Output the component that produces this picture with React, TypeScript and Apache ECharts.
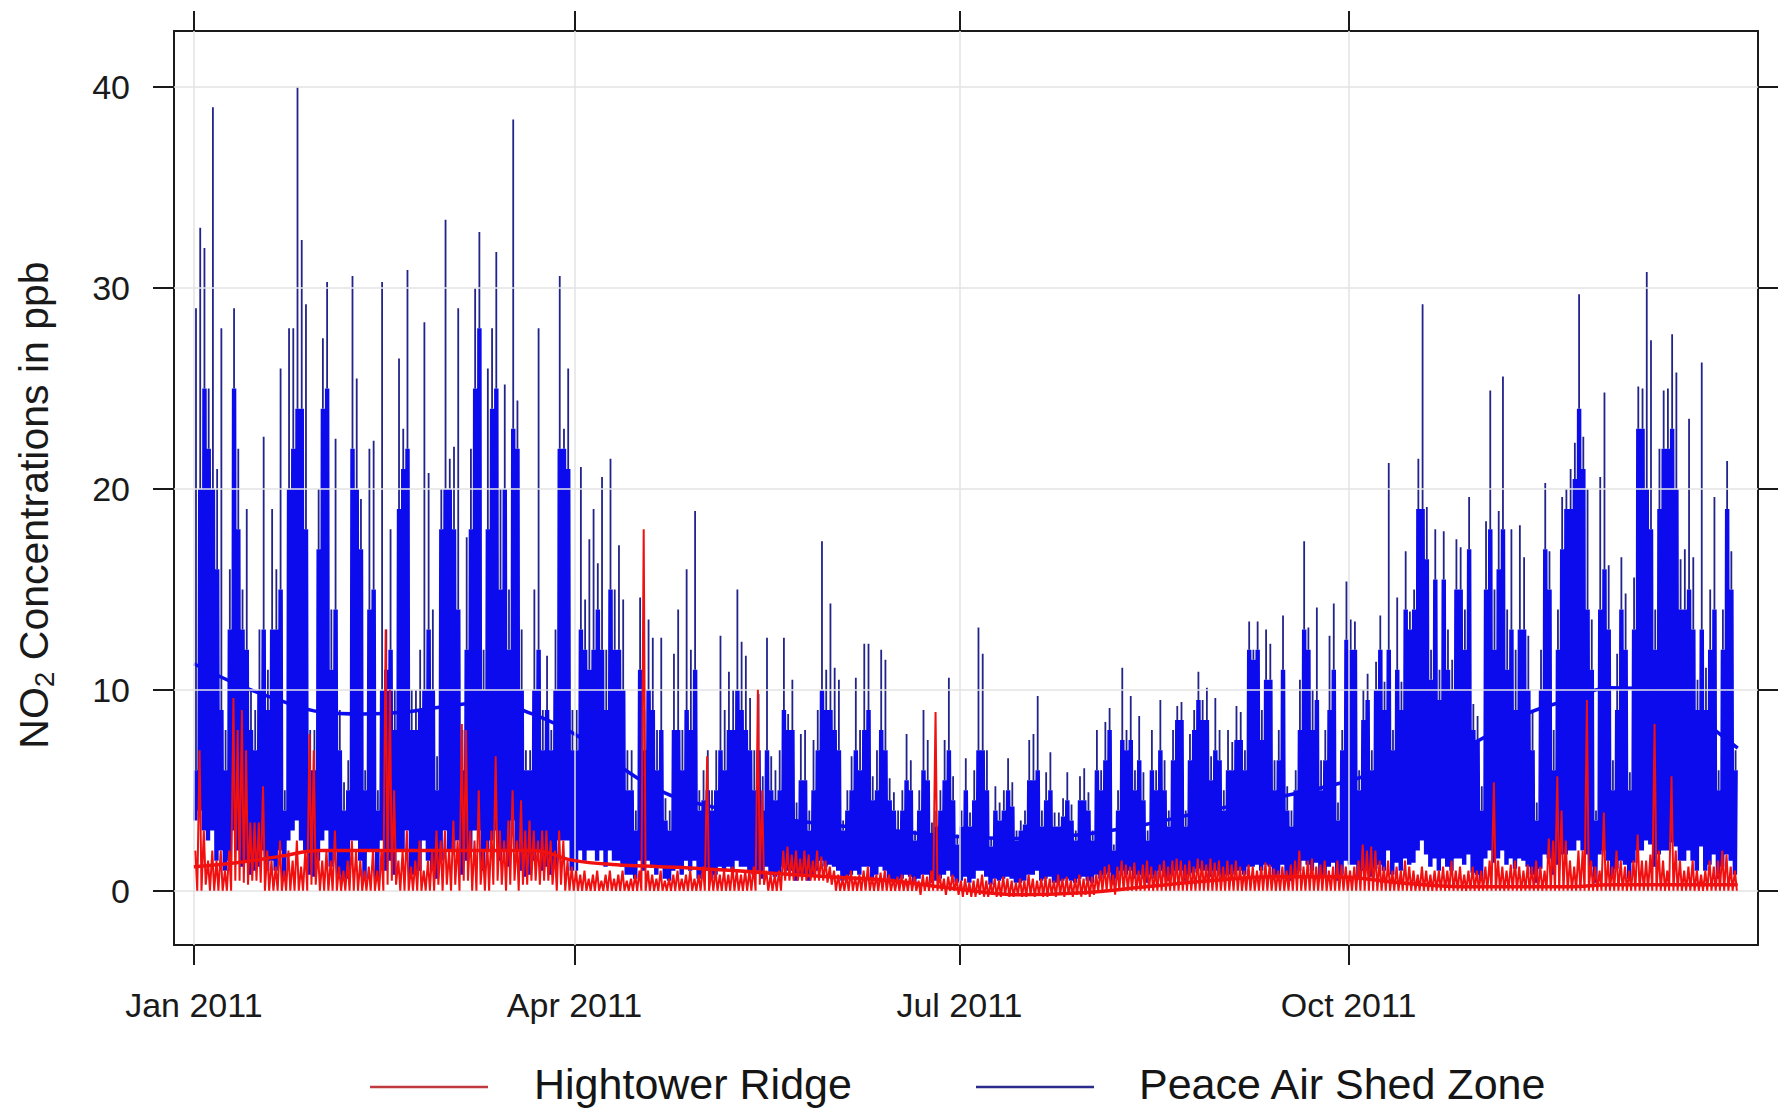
import React, { useEffect, useRef } from "react";
import * as echarts from "echarts";

// x axis: day of year 2011 (0 = 1 Jan)
const TICK_DAYS = [0, 90, 181, 273];
const TICK_LABELS = ["Jan 2011", "Apr 2011", "Jul 2011", "Oct 2011"];
const Y_TICKS = [0, 10, 20, 30, 40];

// Peace Air Shed Zone: daily peak, typical daily high (top of the solid band) and daily low (ppb)
const BLUE_PEAK = [
  29, 33, 32, 25, 39, 21, 28, 8, 16, 29, 22, 15, 19, 10, 9, 13, 22.6, 11, 19, 16, 26, 5, 28, 28, 40, 32.4, 29.2, 8, 8, 20, 27.5,
  30.3, 14, 22.5, 9, 5.4, 6.5, 30.6, 25.5, 19.5, 6, 22, 22.4, 5, 30.3, 13, 18, 10, 26.5, 23, 30.9, 10, 10, 12, 28.3, 20.8, 14, 6.7, 20,
  33.4, 21.5, 22.1, 29, 8, 17.6, 22, 30, 32.8, 12, 26, 28, 31.8, 20, 25.2, 15, 38.4, 24.4, 13, 7, 7, 15, 28, 9, 11.7, 8, 13, 30.6, 23, 26, 9,
  9, 21.1, 14.5, 17.5, 19, 16.3, 20.6, 12, 21.5, 15, 17.2, 14.5, 7, 7, 4, 14.6, 9, 13.5, 12.6, 8, 12.6, 4.6, 4, 11.8, 14, 8, 16, 12, 18.9, 5,
  6, 7, 5, 7, 12.7, 9, 10.9, 10, 15, 12.4, 11.7, 9.6, 7, 9.8, 5.7, 12.6, 6.7, 6, 7, 12.6, 8.8, 10.5, 4.4, 7.8, 8, 4, 7.5, 9, 17.4, 11, 14.3,
  11.1, 10.5, 3.5, 5, 6.7, 10.6, 8, 12.3, 12.3, 5.7, 7, 12, 11.5, 5.6, 4.9, 4, 5, 7.8, 6.5, 3, 5, 9, 7.5, 3.4, 4, 5, 7.5, 10.6, 5.7, 2.8,
  4, 6.6, 3.9, 6, 13.1, 11.8, 7, 2.6, 5.2, 4.4, 5, 6.6, 5.4, 3, 3.5, 4, 7.5, 7.8, 9.7, 4, 5.9, 6.9, 3.9, 3.9, 4.6, 5.9, 4.3, 3, 5.7, 6.1, 4.9,
  3, 8, 6, 8.4, 9.1, 2.3, 5, 11.1, 8, 9.7, 6, 8.7, 5.9, 3, 8, 6, 9.5, 6.5, 4, 8, 9.2, 9.4, 4, 7.8, 9, 10.9, 9.5, 10.1, 6.7, 9.6, 8,
  5, 8, 7.4, 9.2, 8.9, 7, 13.4, 12, 13.4, 9, 13, 12.3, 6.5, 8, 13.7, 5.2, 4, 6, 10.5, 17.4, 13.1, 10, 14.1, 6.5, 8, 12.7, 14.3, 4.4, 8, 15.4,
  13.5, 13.4, 6, 10, 10.8, 7, 11.4, 13.7, 10.4, 21.3, 8, 14.6, 10.4, 16.9, 13.9, 15, 21.5, 29.2, 19.1, 12, 18, 11, 17.9, 13, 11.5, 17.5, 17.1, 14, 19.6, 9.3, 8.7,
  5.2, 18.4, 24.9, 15, 18.9, 25.6, 14, 18, 12, 18.2, 16.6, 12.7, 9, 4.4, 12, 20.3, 16.9, 8, 14, 19.6, 20, 21, 22.3, 29.7, 22.6, 20, 13.5, 4, 20.6, 24.8,
  16.2, 6.5, 11.8, 16.6, 14.8, 5.9, 15.6, 25.1, 25, 30.8, 27.4, 14, 22, 24.9, 25, 27.7, 25.8, 16.5, 17, 23.5, 16.6, 10.5, 26.3, 11.1, 15, 19.6, 6, 14, 21.4, 16.9, 7,
];
const BLUE_MID = [
  6, 20, 25, 22, 20, 16, 9, 6, 13, 25, 18, 13, 12, 8, 7, 10, 13, 9, 13, 13, 15, 4, 20, 22, 24, 24, 18, 6, 6, 17, 24,
  25, 11, 14, 7, 4, 5, 22, 20, 17, 5, 14, 15, 4, 10, 11, 12, 8, 19, 21, 22, 8, 8, 9, 10, 13, 10, 5, 18,
  20, 20, 18, 14, 6, 12, 18, 25, 28, 10, 18, 24, 25, 15, 20, 12, 23, 22, 10, 6, 6, 10, 12, 7, 9, 7, 10, 22, 22, 21, 7,
  7, 13, 12, 11, 12, 14, 12, 9, 15, 12, 12, 10, 5, 5, 3, 11, 7, 10, 9, 6, 8, 3.5, 3, 8, 8, 6, 9, 8, 11, 4,
  4.5, 5, 4, 5, 7, 6, 8, 8, 10, 9, 8, 7, 5, 7, 4, 7, 5, 4.5, 5, 9, 8, 8, 3.5, 5.5, 5.5, 3, 5, 7, 10, 9, 9,
  8, 7, 3, 4, 5, 7, 6, 8, 9, 4.5, 5, 8, 7, 4.5, 4, 3, 4, 5.5, 5, 2.5, 4, 6, 5.5, 2.8, 3.2, 4, 5.5, 7, 4.5, 2.3,
  3.2, 5, 3.2, 4.5, 7, 7, 5, 2.2, 4, 3.5, 4, 5, 4.2, 2.5, 3, 3.3, 5.5, 5.5, 6, 3.2, 4.5, 5, 3.2, 3.2, 3.7, 4.5, 3.5, 2.5, 4.5, 4.5, 4,
  2.5, 6, 5, 6.5, 8, 2, 4, 7.5, 7, 7.5, 5, 6.5, 4.5, 2.5, 6, 5, 7, 5, 3.2, 6.5, 8.5, 8.5, 3.2, 6.5, 8, 9.5, 8.5, 8.5, 5.5, 7, 6.5,
  4, 6, 6, 7.5, 7.5, 6, 12, 11.5, 12, 7.5, 10.5, 10.5, 5, 6.5, 11, 4, 3.2, 5, 8, 13, 12, 8, 9.5, 5, 6.5, 9, 11, 3.5, 7, 12.5,
  12, 12, 5, 8.5, 9.5, 6, 10, 12, 9, 12, 7, 11, 9, 14, 13, 14, 19, 19, 16.5, 10.5, 15.5, 9.5, 15.5, 11, 10, 15, 15, 12, 17, 8, 7.5,
  4, 15, 18, 12, 16, 18, 11, 13, 9, 13, 13, 10, 7, 3.5, 10, 17, 15, 6, 12, 17, 19, 19, 20.5, 24, 21, 14, 11, 3.5, 14, 16,
  13, 5, 9, 14, 12, 5, 13, 23, 23, 20, 18, 12, 19, 22, 22, 23, 20, 14, 14, 15, 13, 9, 13, 9, 12, 14, 5, 12, 19, 15, 6,
];
const BLUE_LOW = [
  3.5, 4, 3, 2.5, 3, 1.5, 2, 1, 1.5, 3, 2, 1.2, 1.5, 0.8, 1, 1.2, 2, 1, 1.5, 1, 2, 0.5, 2.5, 3, 3.5, 2.5, 2, 0.8, 0.7, 1.5, 2.5,
  3, 1.2, 2, 0.8, 0.5, 0.6, 2.5, 2.5, 1.5, 0.6, 2, 2, 0.5, 2.5, 1, 1.5, 0.8, 2, 2, 3, 0.8, 0.8, 1, 2.5, 1.5, 1, 0.6, 1.5,
  3, 2, 2, 2.5, 0.8, 1.5, 2, 3, 3, 1, 2, 2.5, 3, 1.5, 2, 1.2, 3.5, 2, 1, 0.7, 0.8, 1.5, 2, 1, 1.2, 0.8, 1.2, 2.5, 2.5, 2.5, 1,
  1, 2, 1.5, 2, 2, 1.5, 2, 1.2, 2, 1.5, 1.5, 1.2, 0.8, 0.8, 0.6, 1.5, 1, 1.5, 1.2, 0.8, 1.2, 0.6, 0.5, 1, 1.2, 0.8, 1.5, 1, 1.5, 0.6,
  0.8, 1, 0.6, 0.8, 1.2, 1, 1.2, 1, 1.5, 1.2, 1.2, 1, 0.8, 1, 0.6, 1.2, 0.8, 0.7, 0.8, 1.2, 1, 1, 0.5, 0.8, 0.8, 0.5, 0.8, 1, 1.5, 1.2, 1.3,
  1.2, 1, 0.5, 0.6, 0.8, 1, 0.8, 1.2, 1.2, 0.6, 0.8, 1.2, 1, 0.6, 0.5, 0.5, 0.6, 0.8, 0.7, 0.4, 0.6, 0.8, 0.8, 0.4, 0.5, 0.6, 0.8, 1, 0.7, 0.4,
  0.5, 0.7, 0.4, 0.6, 1, 1, 0.7, 0.3, 0.6, 0.5, 0.6, 0.7, 0.6, 0.4, 0.4, 0.5, 0.8, 0.8, 1, 0.5, 0.6, 0.7, 0.4, 0.4, 0.5, 0.6, 0.5, 0.4, 0.6, 0.7, 0.5,
  0.4, 0.8, 0.6, 0.8, 0.9, 0.3, 0.6, 1, 0.8, 1, 0.6, 0.8, 0.6, 0.4, 0.8, 0.6, 1, 0.7, 0.5, 0.8, 1, 1, 0.5, 0.8, 0.9, 1.1, 1, 1, 0.7, 1, 0.8,
  0.6, 0.8, 0.8, 1, 1, 0.8, 1.2, 1.2, 1.3, 1, 1.3, 1.2, 0.7, 0.8, 1.3, 0.6, 0.5, 0.7, 1, 1.5, 1.3, 1, 1.4, 0.7, 0.8, 1.2, 1.4, 0.5, 0.8, 1.5,
  1.3, 1.3, 0.6, 1, 1, 0.7, 1.1, 1.3, 1, 2, 0.8, 1.4, 1, 1.6, 1.3, 1.4, 2, 2.5, 1.8, 1.2, 1.6, 1, 1.6, 1.2, 1, 1.6, 1.6, 1.3, 1.8, 0.9, 0.8,
  0.5, 1.6, 2, 1.4, 1.6, 2, 1.3, 1.6, 1.1, 1.6, 1.5, 1.2, 0.8, 0.4, 1.1, 1.8, 1.6, 0.8, 1.3, 1.8, 1.8, 2, 2, 2.5, 2, 1.8, 1.2, 0.4, 1.8, 2,
  1.5, 0.6, 1.1, 1.5, 1.3, 0.6, 1.4, 2, 2, 2.5, 2.3, 1.2, 1.8, 2, 2, 2.4, 2.2, 1.5, 1.5, 2, 1.5, 1, 2.2, 1, 1.3, 1.8, 0.6, 1.2, 1.8, 1.5, 0.8,
];

// Hightower Ridge: daily peak and daily low (ppb)
const RED_PEAK = [
  2, 7, 3, 1.5, 2, 1.5, 2, 1, 2, 9.6, 8, 9, 7, 3.4, 3.4, 3.4, 5.2, 2, 1.5, 1.2, 2.5, 1, 2, 1.5, 2.5, 1.2, 2, 7.8, 7, 2, 1.5,
  2, 1.5, 3, 1.2, 1, 1.5, 2.5, 2, 1.5, 1, 1.2, 2, 1, 2, 13, 10, 5, 1.5, 2, 3, 1.2, 1.5, 2.5, 1, 1.5, 2, 3, 2.5,
  3, 2, 3.5, 2.5, 8.3, 8, 3, 2.5, 5, 2, 2.5, 3, 6.7, 3, 2.5, 3.5, 5, 2.5, 4.5, 3, 3.5, 3, 2.5, 3, 3, 2.5, 2, 3, 2.5, 1.5, 1.2,
  1, 0.8, 1, 0.6, 0.8, 1, 0.5, 0.8, 1, 0.6, 0.8, 1, 0.5, 0.6, 0.8, 1, 18, 1, 0.8, 0.6, 1, 0.5, 0.6, 0.8, 1, 0.6, 0.8, 1, 0.6, 0.8,
  1.2, 6.7, 1, 1, 0.8, 1, 0.8, 1.2, 1, 0.8, 1, 1, 1.2, 10, 5, 1, 0.8, 0.8, 1, 2, 2.2, 1.8, 2, 1.6, 2, 1.8, 1.5, 2, 1.7, 1.5, 1.2,
  1, 0.8, 0.6, 0.8, 1, 0.7, 0.8, 1, 1.2, 0.7, 0.8, 0.9, 1, 0.8, 0.6, 0.7, 0.8, 0.6, 0.8, 0.7, 0.5, 0.8, 0.7, 1, 8.9, 0.8, 0.6, 0.7, 0.8, 0.6,
  0.5, 0.6, 0.4, 0.5, 0.6, 0.8, 0.5, 0.4, 0.6, 0.5, 0.7, 0.6, 0.5, 0.4, 0.6, 0.5, 0.8, 0.6, 0.5, 0.6, 0.7, 0.6, 0.5, 0.8, 0.6, 0.7, 0.5, 0.6, 0.8, 0.6, 0.7,
  0.7, 0.8, 1, 1.2, 1.3, 0.8, 1.2, 1.5, 1.3, 1.2, 1.4, 1, 1.3, 1.5, 1.2, 1, 1.3, 1.5, 1.2, 1.5, 1.6, 1.5, 1.3, 1.5, 1.2, 1.6, 1.5, 1.3, 1.6, 1.4, 1.5,
  1.2, 1.5, 1.3, 1.5, 1.2, 1, 1.3, 1.2, 1, 1.2, 1.4, 1.3, 1.1, 1, 1.2, 1, 1.3, 1.5, 2, 1.2, 1.5, 1.6, 1.2, 1.3, 1.5, 1, 1.2, 1.5, 1.3, 1.2,
  1, 1.2, 1.5, 2.3, 2, 2.2, 2, 1.5, 1.2, 1.5, 1, 1.2, 1, 1.5, 1.2, 1, 0.8, 1.2, 1, 0.8, 1, 1, 1.2, 1, 1.5, 1, 1.2, 0.8, 1, 1.2, 1,
  1, 1.2, 1.5, 5.4, 1.5, 1.2, 1, 1.3, 1.5, 1.2, 1, 1.3, 1.2, 1.5, 1.2, 1, 2.6, 2.5, 5.7, 4, 2.5, 1.5, 1.2, 2, 2, 9.5, 1.5, 1.2, 1, 3.9,
  1.5, 1.2, 2, 1.5, 1.2, 1, 1.5, 2.8, 1.5, 1.5, 1.8, 8.3, 2, 1.5, 1, 5.7, 2, 1.5, 1, 1.2, 1.5, 1, 0.8, 1, 1.5, 1.2, 1.5, 2, 1.8, 1.2, 1,
];
const RED_LOW = [
  0, 0, 0.3, 0, 0, 0, 0, 0, 0, 0.5, 0.5, 0.4, 0.3, 0.5, 0.5, 0.4, 0, 0, 0, 0, 0, 0, 0, 0, 0, 0, 0, 0.3, 0.3, 0, 0,
  0, 0, 0, 0, 0, 0, 0, 0, 0, 0, 0, 0, 0, 0, 0.3, 0.5, 0.3, 0, 0, 0, 0, 0, 0, 0, 0, 0, 0.3, 0,
  0.3, 0, 0.3, 0, 0.5, 0.5, 0, 0, 0.3, 0, 0, 0.3, 0.5, 0.3, 0, 0.3, 0.5, 0, 0.3, 0.3, 0.5, 0.5, 0.3, 0.5, 0.5, 0.3, 0, 0.3, 0, 0, 0,
  0, 0, 0, 0, 0, 0, 0, 0, 0, 0, 0, 0, 0, 0, 0, 0, 0, 0, 0, 0, 0, 0, 0, 0, 0, 0, 0, 0, 0, 0,
  0, 0, 0, 0, 0, 0, 0, 0, 0, 0, 0, 0, 0, 0.3, 0.3, 0, 0, 0, 0, 0.5, 0.5, 0.5, 0.5, 0.5, 0.5, 0.5, 0.5, 0.5, 0.5, 0.4, 0.3,
  0, 0, 0, 0, 0, 0, 0, 0, 0, 0, 0, 0, 0, 0, 0, 0, 0, 0, 0, 0, -0.2, 0, 0, 0, 0, 0, -0.2, 0, 0, -0.2,
  -0.3, -0.2, -0.3, -0.3, -0.2, -0.3, -0.3, -0.2, -0.3, -0.3, -0.2, -0.3, -0.3, -0.2, -0.3, -0.3, -0.2, -0.3, -0.2, -0.3, -0.3, -0.2, -0.3, -0.2, -0.3, -0.2, -0.3, -0.2, -0.3, -0.2, -0.3,
  -0.2, 0, 0, 0, 0, -0.2, 0, 0, 0, 0, 0, 0, 0, 0, 0, 0, 0, 0, 0, 0, 0, 0, 0, 0, 0, 0, 0, 0, 0, 0, 0,
  0, 0, 0, 0, 0, 0, 0, 0, 0, 0, 0, 0, 0, 0, 0, 0, 0, 0, 0, 0, 0, 0, 0, 0, 0, 0, 0, 0, 0, 0,
  0, 0, 0, 0, 0, 0, 0, 0, 0, 0, 0, 0, 0, 0, 0, 0, 0, 0, 0, 0, 0, 0, 0, 0, 0, 0, 0, 0, 0, 0, 0,
  0, 0, 0, 0, 0, 0, 0, 0, 0, 0, 0, 0, 0, 0, 0, 0, 0, 0, 0, 0, 0, 0, 0, 0, 0, 0, 0, 0, 0, 0,
  0, 0, 0, 0, 0, 0, 0, 0, 0, 0, 0, 0, 0, 0, 0, 0, 0, 0, 0, 0, 0, 0, 0, 0, 0, 0, 0, 0, 0, 0, 0,
];

// smooth trend curves
const TREND_DAYS = [0, 10, 20, 30, 40, 50, 60, 70, 80, 90, 100, 110, 120, 135, 150, 165, 180, 195, 210, 225, 240, 255, 270, 285, 300, 315, 325, 335, 345, 355, 365];
const BLUE_TREND = [11.3, 10.3, 9.5, 8.9, 8.8, 8.9, 9.2, 9.4, 8.8, 7.8, 6.3, 5.0, 4.3, 3.7, 3.3, 3.0, 2.7, 2.6, 2.8, 3.3, 4.0, 4.6, 5.3, 6.2, 7.1, 8.8, 9.5, 10.1, 10.0, 8.7, 7.1];
const RED_TREND = [1.2, 1.4, 1.7, 2.0, 2.0, 2.0, 2.0, 2.0, 2.0, 1.5, 1.3, 1.2, 1.1, 0.9, 0.7, 0.5, 0.1, -0.2, -0.1, 0.2, 0.5, 0.7, 0.7, 0.4, 0.2, 0.2, 0.2, 0.3, 0.3, 0.3, 0.3];

const FONT = "'Liberation Sans', Arial, Helvetica, sans-serif";
const BLUE = "#0b0bee";
const NAVY = "#23238c";
const RED = "#f01010";

// solid daily band: zig-zag between daily low and typical daily high
function blueBody(mids: number[], lows: number[]) {
  const out: number[][] = [];
  for (let i = 0; i < mids.length; i++) {
    out.push([i, lows[i]]);
    out.push([i + 0.17, mids[i]]);
    out.push([i + 0.34, lows[i]]);
    out.push([i + 0.5, mids[i]]);
    out.push([i + 0.67, lows[i]]);
    out.push([i + 0.84, mids[i]]);
  }
  return out;
}

// one thin hourly spike per day, from the band top to the daily peak
function blueSpikes(peaks: number[], mids: number[]) {
  const out: (number | string)[][] = [];
  for (let i = 0; i < peaks.length; i++) {
    out.push([i + 0.5, mids[i]]);
    out.push([i + 0.5, peaks[i]]);
    out.push([i + 0.5, "-"]);
  }
  return out;
}

function redTrace(peaks: number[], lows: number[]) {
  const out: number[][] = [];
  for (let i = 0; i < peaks.length; i++) {
    out.push([i + 0.35, peaks[i]]);
    out.push([i + 0.8, lows[i]]);
  }
  return out;
}

export default function App() {
  const ref = useRef<HTMLDivElement>(null);
  useEffect(() => {
    if (!ref.current) return;
    const chart = echarts.init(ref.current, undefined, { renderer: "svg" });
    const bodyData = blueBody(BLUE_MID, BLUE_LOW);
    const spikeData = blueSpikes(BLUE_PEAK, BLUE_MID);
    const redData = redTrace(RED_PEAK, RED_LOW);
    const blueTrend = TREND_DAYS.map((d, i) => [d, BLUE_TREND[i]]);
    const redTrend = TREND_DAYS.map((d, i) => [d, RED_TREND[i]]);
    const axisLineStyle = { color: "#1a1a1a", width: 2 };
    const xCommon = {
      type: "value",
      min: -4.7,
      max: 369.8,
      splitLine: { show: false },
      axisLine: { show: true, onZero: false, lineStyle: axisLineStyle },
    };
    const yCommon = {
      type: "value",
      min: -2.7,
      max: 42.8,
      splitLine: { show: false },
      axisLine: { show: true, onZero: false, lineStyle: axisLineStyle },
    };
    const lineBase = {
      type: "line",
      showSymbol: false,
      symbol: "none",
      silent: true,
      emphasis: { disabled: true },
    };
    chart.setOption({
      animation: false,
      backgroundColor: "#ffffff",
      grid: { left: 174, right: 32, top: 31, bottom: 165, containLabel: false },
      xAxis: [
        {
          ...xCommon,
          position: "bottom",
          axisTick: { show: true, customValues: TICK_DAYS, length: 20, lineStyle: axisLineStyle },
          axisLabel: {
            show: true,
            customValues: TICK_DAYS,
            formatter: (v: number) => TICK_LABELS[TICK_DAYS.indexOf(Math.round(v))] || "",
            fontSize: 34,
            fontFamily: FONT,
            color: "#1a1a1a",
            margin: 43,
          },
        },
        {
          ...xCommon,
          position: "top",
          axisTick: { show: true, customValues: TICK_DAYS, length: 20, lineStyle: axisLineStyle },
          axisLabel: { show: false },
        },
      ],
      yAxis: [
        {
          ...yCommon,
          position: "left",
          axisTick: { show: true, customValues: Y_TICKS, length: 21, lineStyle: axisLineStyle },
          axisLabel: {
            show: true,
            customValues: Y_TICKS,
            fontSize: 34,
            fontFamily: FONT,
            color: "#1a1a1a",
            margin: 44,
          },
        },
        {
          ...yCommon,
          position: "right",
          axisTick: { show: true, customValues: Y_TICKS, length: 20, lineStyle: axisLineStyle },
          axisLabel: { show: false },
        },
      ],
      series: [
        {
          ...lineBase,
          name: "grid",
          data: [[0, 0]],
          lineStyle: { opacity: 0 },
          z: 1,
          markLine: {
            silent: true,
            symbol: ["none", "none"],
            label: { show: false },
            emphasis: { disabled: true },
            lineStyle: { color: "#e3e3e3", width: 1.5, type: "solid" },
            data: [...Y_TICKS.map((v) => ({ yAxis: v })), ...TICK_DAYS.map((v) => ({ xAxis: v }))],
          },
        },
        {
          ...lineBase,
          name: "Peace Air Shed Zone",
          data: bodyData,
          lineStyle: { color: BLUE, width: 1.6 },
          z: 2,
        },
        {
          ...lineBase,
          name: "Peace Air Shed Zone peaks",
          data: spikeData,
          connectNulls: false,
          lineStyle: { color: NAVY, width: 1.8 },
          z: 3,
        },
        {
          ...lineBase,
          name: "Peace trend",
          data: blueTrend,
          smooth: 0.4,
          lineStyle: { color: BLUE, width: 3.5 },
          z: 4,
        },
        {
          ...lineBase,
          name: "Hightower Ridge",
          data: redData,
          lineStyle: { color: RED, width: 2 },
          z: 5,
        },
        {
          ...lineBase,
          name: "Hightower trend",
          data: redTrend,
          smooth: 0.4,
          lineStyle: { color: RED, width: 3.5 },
          z: 6,
        },
      ],
      graphic: [
        {
          type: "text",
          x: 34,
          y: 505,
          rotation: Math.PI / 2,
          style: {
            text: "{a|NO}{b|2}{a| Concentrations in ppb}",
            align: "center",
            verticalAlign: "middle",
            fill: "#1a1a1a",
            rich: {
              a: { fontSize: 41, fontFamily: FONT, fill: "#1a1a1a" },
              b: { fontSize: 28, fontFamily: FONT, fill: "#1a1a1a", padding: [20, 0, 0, 0] },
            },
          },
        },
        {
          type: "line",
          shape: { x1: 370, y1: 1087, x2: 488, y2: 1087 },
          style: { stroke: "#c0393f", lineWidth: 2.5 },
        },
        {
          type: "text",
          x: 534,
          y: 1084,
          style: { text: "Hightower Ridge", fontSize: 43, fontFamily: FONT, fill: "#151515", align: "left", verticalAlign: "middle" },
        },
        {
          type: "line",
          shape: { x1: 976, y1: 1087, x2: 1094, y2: 1087 },
          style: { stroke: "#2b2b8c", lineWidth: 2.5 },
        },
        {
          type: "text",
          x: 1139,
          y: 1084,
          style: { text: "Peace Air Shed Zone", fontSize: 43, fontFamily: FONT, fill: "#151515", align: "left", verticalAlign: "middle" },
        },
      ],
    });
    return () => chart.dispose();
  }, []);
  return (
    <div
      ref={ref}
      style={{ position: "fixed", left: 0, top: 0, width: 1790, height: 1110, background: "#fff" }}
    />
  );
}
